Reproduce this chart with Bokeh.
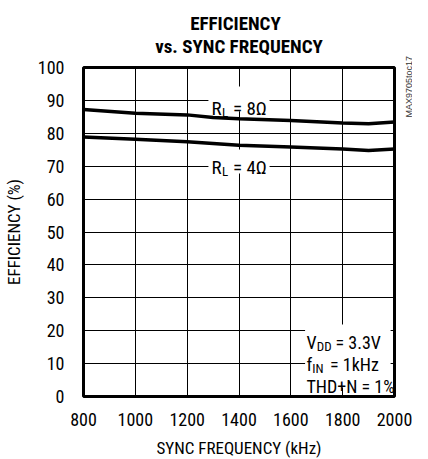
from bokeh.plotting import figure
from bokeh.models import Label, BoxAnnotation, FixedTicker, Range1d, Title
from bokeh.embed import file_html
from bokeh.resources import INLINE

# ---- data ----
freq_khz = [800, 1000, 1200, 1300, 1400, 1600, 1800, 1900, 2000]
eff_8ohm = [87.2, 86.1, 85.6, 84.8, 84.4, 83.9, 83.1, 82.9, 83.4]
eff_4ohm = [78.9, 78.2, 77.4, 76.9, 76.4, 75.8, 75.2, 74.8, 75.2]
x_ticks = [800, 1000, 1200, 1400, 1600, 1800, 2000]
y_ticks = [0, 10, 20, 30, 40, 50, 60, 70, 80, 90, 100]
title_lines = ["EFFICIENCY", "vs. SYNC FREQUENCY"]

FONT = "Roboto Condensed, Liberation Sans Narrow, DejaVu Sans Condensed, sans-serif"
TICK_FS = "18px"
AXIS_FS = "17px"
NOTE_FS = "18px"
CURVE_FS = "19px"
SUB_FS = "13px"

p = figure(width=412, height=460, output_backend="svg", toolbar_location=None,
           x_range=Range1d(800, 2000), y_range=Range1d(0, 100),
           min_border_left=74, min_border_right=18, min_border_top=64, min_border_bottom=60)
p.title = None
p.background_fill_color = "white"
p.border_fill_color = "white"
p.outline_line_color = "black"
p.outline_line_width = 3

for ax in (p.xaxis, p.yaxis):
    ax.axis_line_color = None
    ax.major_tick_line_color = None
    ax.minor_tick_line_color = None
    ax.major_label_text_font = FONT
    ax.major_label_text_font_size = TICK_FS
    ax.major_label_text_color = "black"
    ax.axis_label_text_font = FONT
    ax.axis_label_text_font_size = AXIS_FS
    ax.axis_label_text_font_style = "normal"
    ax.axis_label_text_color = "black"

p.xaxis.ticker = FixedTicker(ticks=x_ticks)
p.yaxis.ticker = FixedTicker(ticks=y_ticks)
p.xaxis.axis_label = "SYNC FREQUENCY (kHz)"
p.yaxis.axis_label = "EFFICIENCY (%)"
p.xaxis.major_label_standoff = 10
p.yaxis.major_label_standoff = 13
p.xaxis.axis_label_standoff = 9
p.yaxis.axis_label_standoff = 11

p.xgrid.ticker = FixedTicker(ticks=x_ticks)
p.ygrid.ticker = FixedTicker(ticks=y_ticks)
for g in (p.xgrid, p.ygrid):
    g.grid_line_color = "black"
    g.grid_line_width = 1
    g.grid_line_alpha = 1

# title (two lines; first line padded with no-break spaces so both lines are centred)
pad = "\u00a0" * 8
p.add_layout(Title(text=pad + title_lines[0] + "\n" + title_lines[1], align="center",
                   text_font=FONT, text_font_size="19px", text_font_style="bold",
                   text_color="black", text_line_height=1.0, standoff=19), "above")

# white boxes that break the grid behind the in-plot texts
p.add_layout(BoxAnnotation(left=1655, right=1985, bottom=2.7, top=21.9,
                           fill_color="white", fill_alpha=1, line_color=None))
p.add_layout(BoxAnnotation(left=1282, right=1518, bottom=86.7, top=94.2,
                           fill_color="white", fill_alpha=1, line_color=None))
p.add_layout(BoxAnnotation(left=1282, right=1518, bottom=67.8, top=75.1,
                           fill_color="white", fill_alpha=1, line_color=None))

p.line(freq_khz, eff_8ohm, line_color="black", line_width=3.5)
p.line(freq_khz, eff_4ohm, line_color="black", line_width=3.5)


def piece(x, y, text, dx=0, dy=0, size=NOTE_FS):
    return Label(x=x, y=y, x_offset=dx, y_offset=dy, text=text,
                 text_font=FONT, text_font_size=size, text_color="black",
                 text_baseline="alphabetic")


# curve labels (R_L = 8 ohm / 4 ohm), centred on the 1400 kHz grid line
for yv, val in ((87.5, "8Ω"), (69.6, "4Ω")):
    x0, d0 = 1400, -27.5
    p.add_layout(piece(x0, yv, "R", dx=d0, size=CURVE_FS))
    p.add_layout(piece(x0, yv, "L", dx=d0 + 10.5, dy=-4, size=SUB_FS))
    p.add_layout(piece(x0, yv, "= " + val, dx=d0 + 21.5, size=CURVE_FS))

# conditions (anchored to the right edge of the frame)
cx, c0 = 2000, -88
p.add_layout(piece(cx, 16.4, "V", dx=c0))
p.add_layout(piece(cx, 16.4, "DD", dx=c0 + 10.3, dy=-4, size=SUB_FS))
p.add_layout(piece(cx, 16.4, "= 3.3V", dx=c0 + 29.0))
p.add_layout(piece(cx, 9.7, "f", dx=c0))
p.add_layout(piece(cx, 9.7, "IN", dx=c0 + 5.8, dy=-4, size=SUB_FS))
p.add_layout(piece(cx, 9.7, "= 1kHz", dx=c0 + 23.5))
p.add_layout(piece(cx, 3.0, "THD+N = 1%", dx=c0))

# side code (in the right panel so it is not clipped to the frame)
p.add_layout(Label(x=14, y=279, x_units="screen", y_units="screen", text="MAX9705toc17",
                   angle=90, angle_units="deg", text_font="Liberation Sans",
                   text_font_size="9px", text_color="#333333", text_baseline="alphabetic"),
             "right")

open("out.html", "w").write(file_html(p, INLINE))
